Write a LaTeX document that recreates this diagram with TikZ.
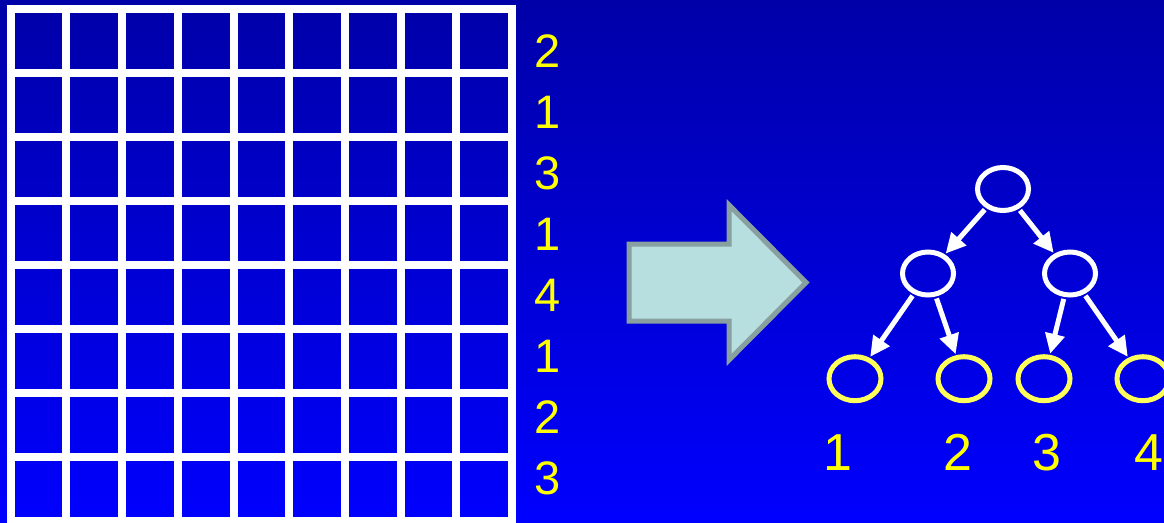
\documentclass[tikz,border=0pt]{standalone}
\usepackage{fontspec}
\setmainfont{Liberation Sans}
\usepackage{xcolor}
\definecolor{bgtop}{RGB}{0,0,168}
\definecolor{bgmid}{RGB}{0,0,225}
\definecolor{bgbot}{RGB}{0,0,255}
\definecolor{numyellow}{RGB}{255,255,0}
\definecolor{leafyellow}{RGB}{255,255,90}
\definecolor{arrowfill}{RGB}{184,223,224}
\definecolor{arrowedge}{RGB}{136,160,160}
\usepackage{tikz}
\usetikzlibrary{arrows.meta, shapes.geometric}

\tikzset{
  treenode/.style={ellipse, draw=white, line width=5pt, minimum width=51pt, minimum height=43pt, inner sep=0pt},
  leafnode/.style={ellipse, draw=leafyellow, line width=5pt, minimum width=52pt, minimum height=44pt, inner sep=0pt},
  link/.style={-{Triangle[length=20pt,width=19pt]}, white, line width=5pt, shorten <=2pt, shorten >=1pt},
  rownum/.style={numyellow, font=\fontsize{47}{50}\selectfont, inner sep=0pt},
  leafnum/.style={numyellow, font=\fontsize{52}{56}\selectfont, inner sep=0pt}
}

\begin{document}
\begin{tikzpicture}[x=1pt, y=-1pt]
      \useasboundingbox (0,0) rectangle (1164,522);
      \clip (0,0) rectangle (1164,522);
      \shade[top color=bgtop, middle color=bgmid, bottom color=bgbot] (0,0) rectangle (1164,522);
      % grid of cells
      \foreach \i in {0,...,9}
        \draw[white, line width=8pt] (10.7+55.7*\i,4.7) -- (10.7+55.7*\i,525);
      \foreach \j in {0,...,8}
        \draw[white, line width=8pt] (6.7,8.7+64*\j) -- (516,8.7+64*\j);
      % row counts
      \foreach \v [count=\k from 0] in {2,1,3,1,4,1,2,3}
        \node[rownum] (row\k) at (548,51+61*\k) {\v};
      % big arrow
      \draw[fill=arrowfill, draw=arrowedge, line width=5pt]
           (629,244) -- (729,244) -- (729,205) -- (806,282.5) -- (729,360) -- (729,321) -- (629,321) -- cycle;
      % tree
      \node[treenode] (root) at (1003,189) {};
      \node[treenode] (midl) at (928,273.5) {};
      \node[treenode] (midr) at (1070,273.5) {};
      \node[leafnode] (leafa) at (855,378.7) {};
      \node[leafnode] (leafb) at (964,378.7) {};
      \node[leafnode] (leafc) at (1044,378.7) {};
      \node[leafnode] (leafd) at (1143,378.7) {};
      \draw[link] (root) -- (midl);
      \draw[link] (root) -- (midr);
      \draw[link] (midl) -- (leafa);
      \draw[link] (midl) -- (leafb);
      \draw[link] (midr) -- (leafc);
      \draw[link] (midr) -- (leafd);
      \node[leafnum] (numa) at (838,452.5) {1};
      \node[leafnum] (numb) at (958,452.5) {2};
      \node[leafnum] (numc) at (1046.5,452.5) {3};
      \node[leafnum] (numd) at (1149,452.5) {4};
    \end{tikzpicture}
\end{document}
